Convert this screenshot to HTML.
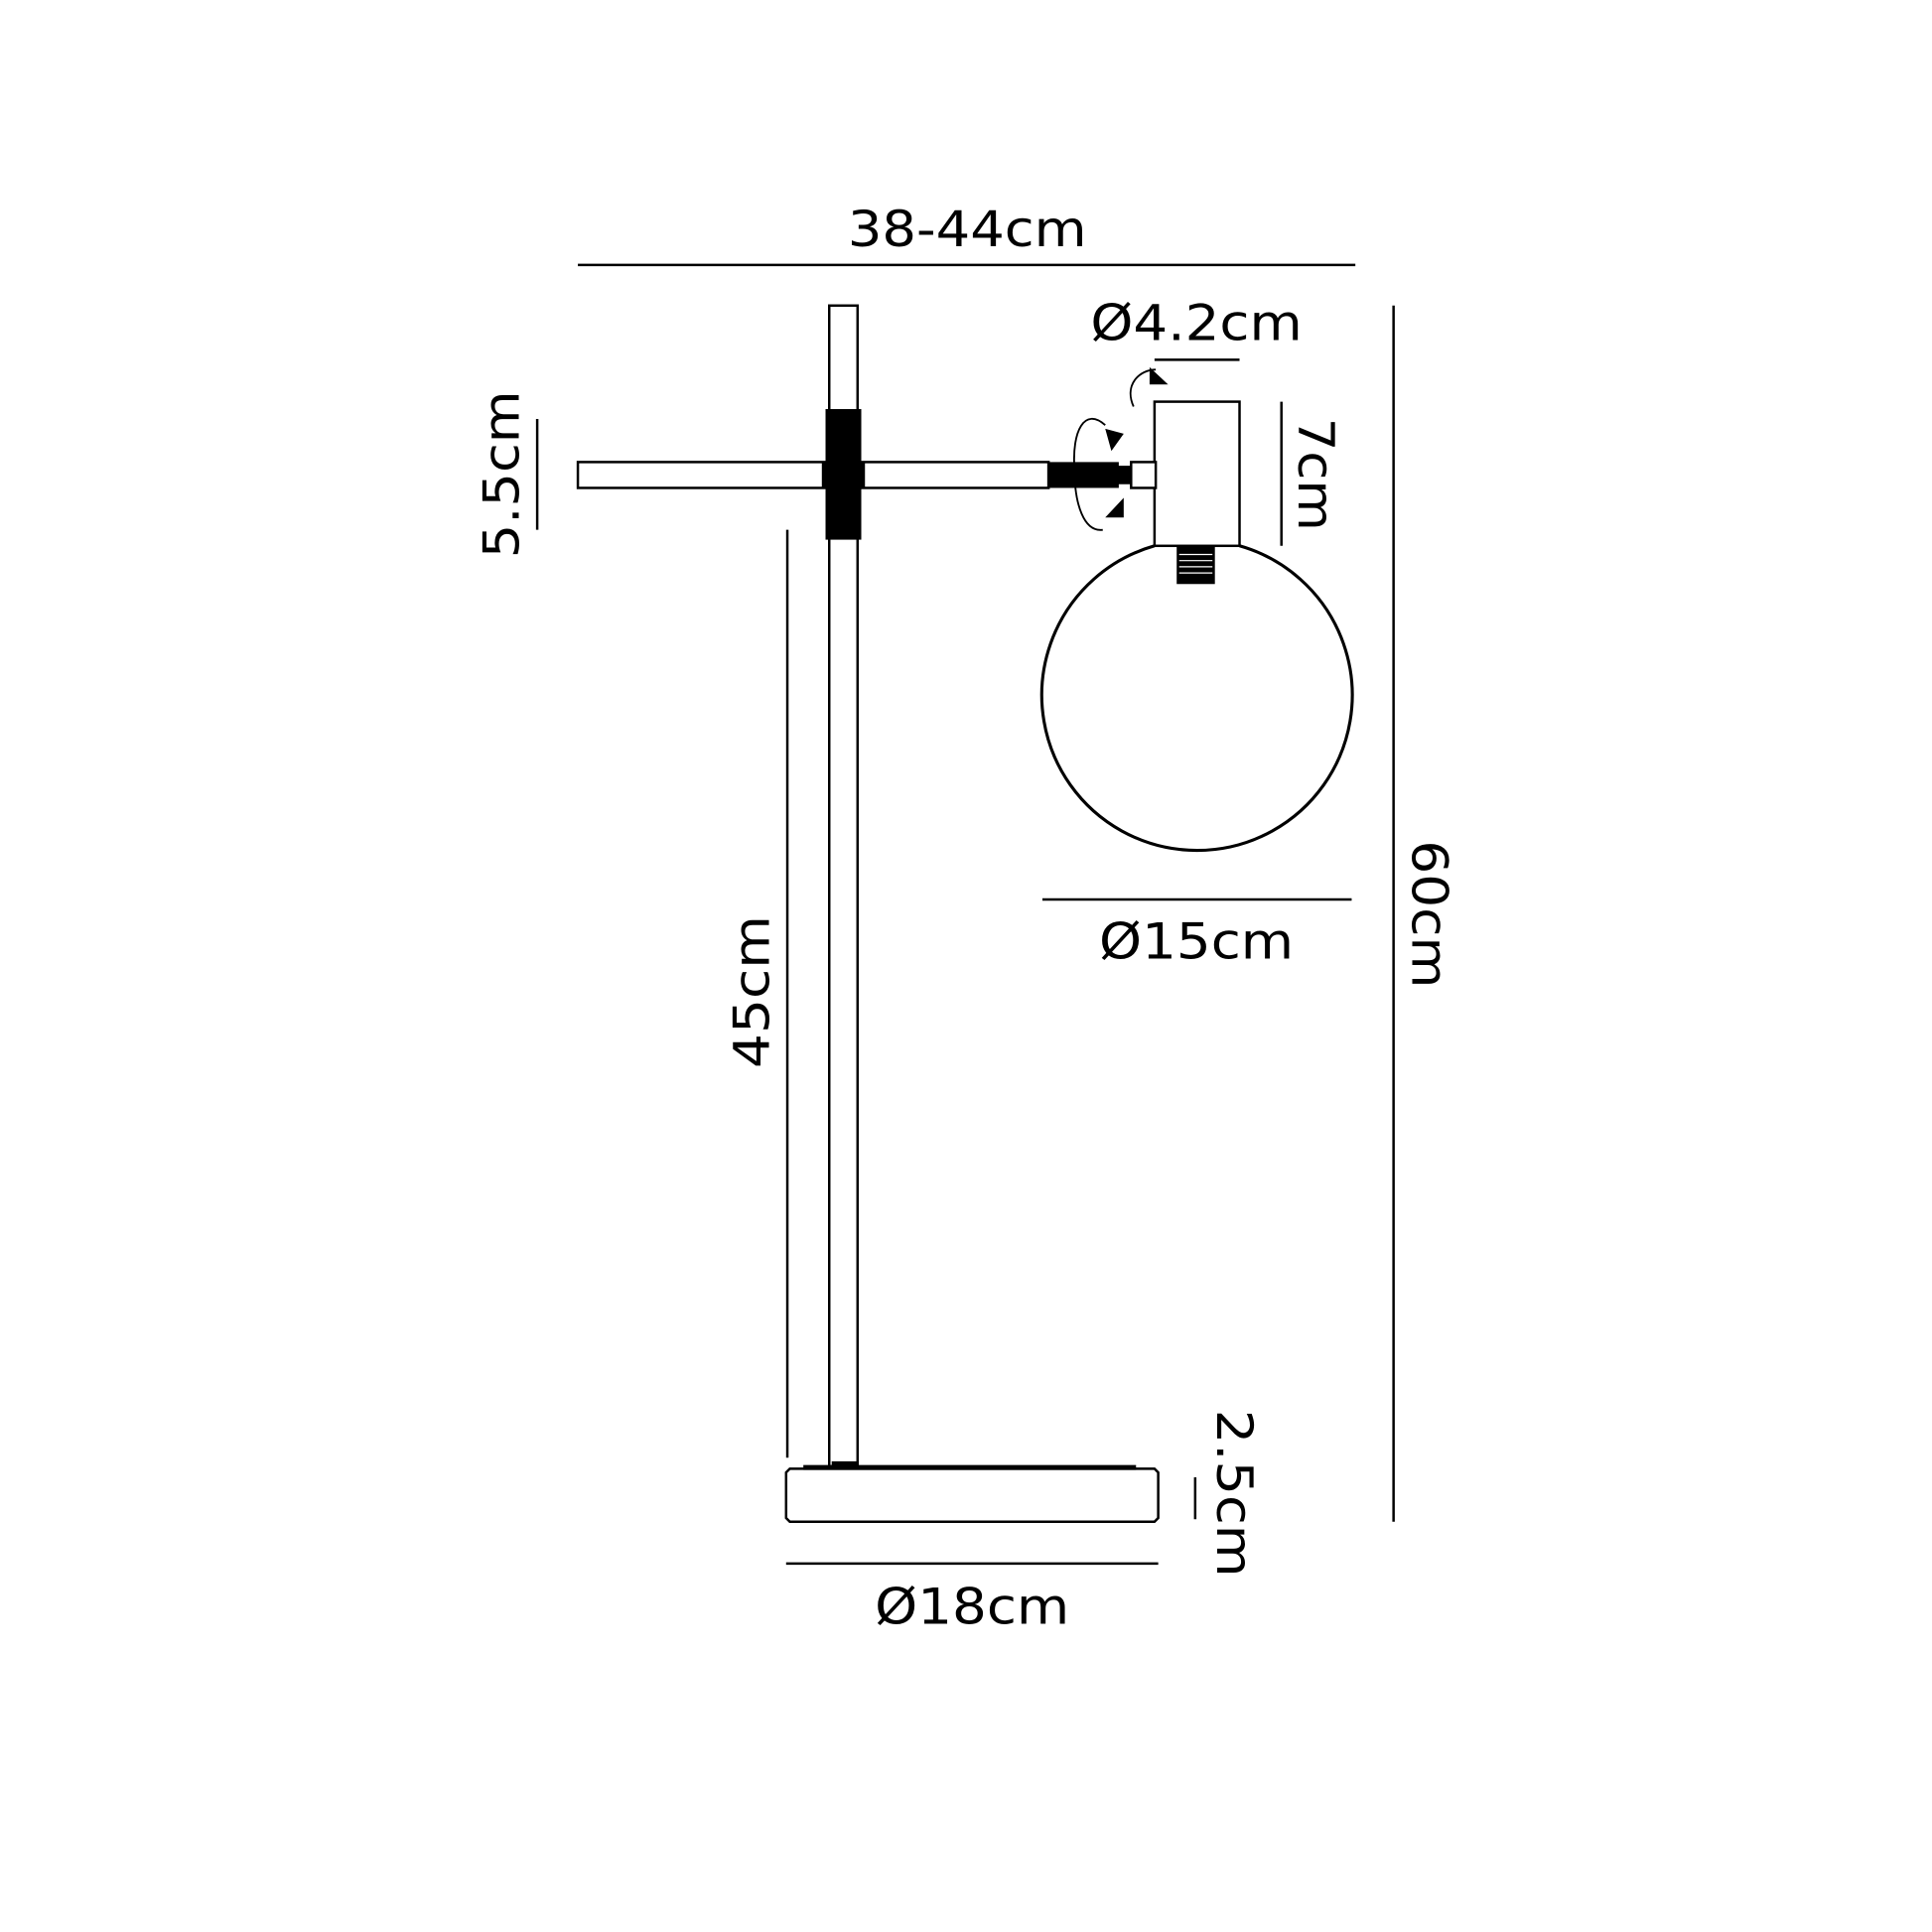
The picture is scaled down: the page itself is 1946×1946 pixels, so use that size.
<!DOCTYPE html>
<html><head><meta charset="utf-8"><style>
html,body{margin:0;padding:0;background:#fff}
svg{display:block}
text{font-family:"DejaVu Sans","Liberation Sans",sans-serif;font-size:40px;fill:#000}
</style></head><body>
<svg width="1946" height="1946" viewBox="0 0 1568 1568" xmlns="http://www.w3.org/2000/svg">
<g stroke="#000" fill="none" stroke-width="2">
<!-- top dim -->
<line x1="469" y1="215" x2="1100" y2="215"/>
<!-- pole -->
<rect x="673" y="248" width="23" height="942" fill="#fff"/>
<!-- arm -->
<rect x="469" y="375" width="382" height="21" fill="#fff"/>
<!-- 5.5 dim -->
<line x1="436" y1="340" x2="436" y2="430"/>
<!-- 45 dim -->
<line x1="639" y1="430" x2="639" y2="1183"/>
<!-- box -->
<rect x="937" y="326" width="69" height="117" fill="#fff"/>
<!-- small cylinder -->
<rect x="918" y="375" width="20" height="21" fill="#fff"/>
<!-- globe -->
<path d="M937 443 A126 126 0 1 0 1006 443" stroke-width="2.5"/>
<!-- dims -->
<line x1="937" y1="292" x2="1006" y2="292"/>
<line x1="1040" y1="326" x2="1040" y2="443"/>
<line x1="846" y1="730" x2="1097" y2="730"/>
<line x1="1131" y1="248" x2="1131" y2="1235"/>
<line x1="970" y1="1199" x2="970" y2="1233"/>
<line x1="638" y1="1269" x2="940" y2="1269"/>
<!-- base -->
<path d="M641 1192 L937 1192 L940 1195 L940 1232 L937 1235 L641 1235 L638 1232 L638 1195 Z" fill="#fff"/>
<!-- rotation arrows -->
<path d="M897 345 C880 330 870 350 872 380 C872 410 880 432 895 430" stroke-width="1.5"/>
<path d="M920 330 C912 312 925 300 938 300" stroke-width="1.5"/>
</g>
<g fill="#000">
<rect x="670" y="332" width="29" height="106"/>
<rect x="667" y="375" width="35" height="21"/>
<rect x="850" y="375" width="58" height="21"/>
<rect x="907" y="378" width="11" height="15"/>
<rect x="675" y="1186" width="22" height="6"/>
<rect x="652" y="1189" width="270" height="4"/>
<rect x="955" y="443" width="31" height="31"/>
<polygon points="897,348 912,352 902,366"/>
<polygon points="897,420 912,404 912,420"/>
<polygon points="933,298 948,312 933,312"/>
</g>
<g stroke="#fff" stroke-width="1">
<line x1="957" y1="450" x2="984" y2="450"/><line x1="957" y1="455" x2="984" y2="455"/>
<line x1="957" y1="460" x2="984" y2="460"/><line x1="957" y1="465" x2="984" y2="465"/>
</g>
<text x="785" y="200" text-anchor="middle" textLength="194" lengthAdjust="spacingAndGlyphs">38-44cm</text>
<text x="971" y="276" text-anchor="middle" textLength="172" lengthAdjust="spacingAndGlyphs">Ø4.2cm</text>
<text x="971" y="778" text-anchor="middle" textLength="158" lengthAdjust="spacingAndGlyphs">Ø15cm</text>
<text x="789" y="1318" text-anchor="middle" textLength="158" lengthAdjust="spacingAndGlyphs">Ø18cm</text>
<text transform="translate(421,385) rotate(-90)" text-anchor="middle" textLength="136" lengthAdjust="spacingAndGlyphs">5.5cm</text>
<text transform="translate(624,805) rotate(-90)" text-anchor="middle" textLength="124" lengthAdjust="spacingAndGlyphs">45cm</text>
<text transform="translate(1054,385) rotate(90)" text-anchor="middle" textLength="92" lengthAdjust="spacingAndGlyphs">7cm</text>
<text transform="translate(1146,742) rotate(90)" text-anchor="middle" textLength="120" lengthAdjust="spacingAndGlyphs">60cm</text>
<text transform="translate(988,1212) rotate(90)" text-anchor="middle" textLength="136" lengthAdjust="spacingAndGlyphs">2.5cm</text>
</svg>
</body></html>
